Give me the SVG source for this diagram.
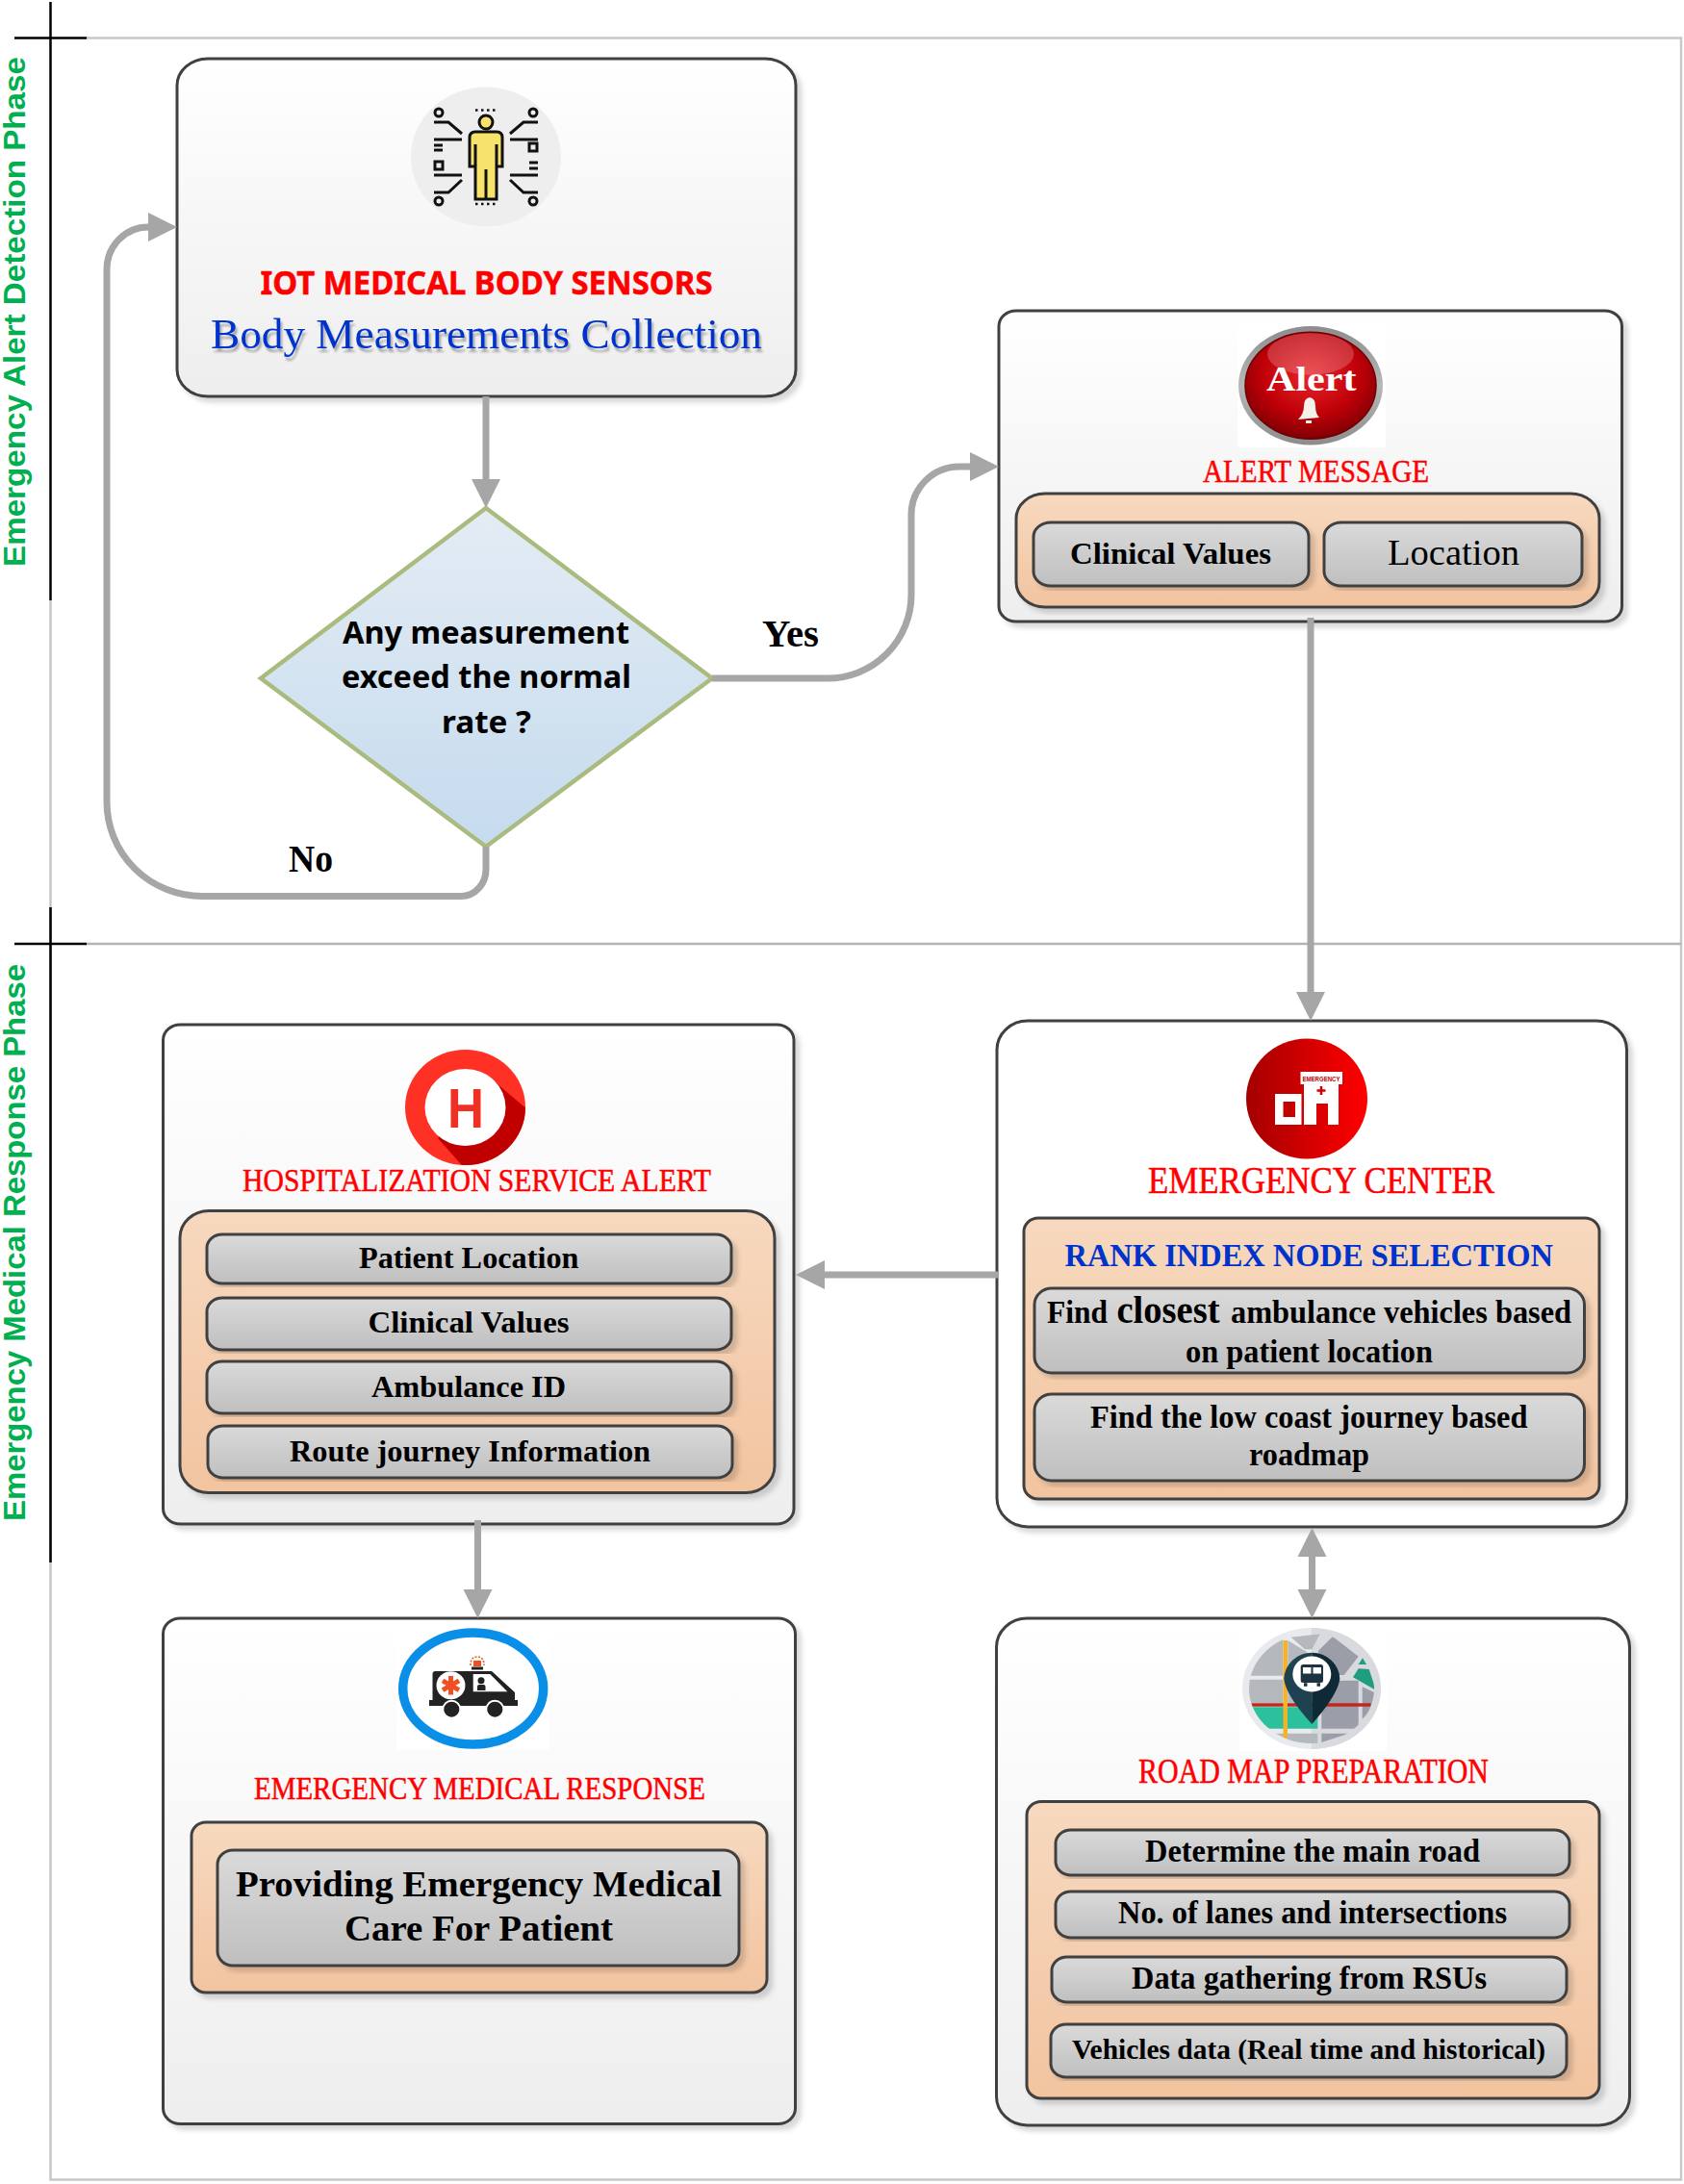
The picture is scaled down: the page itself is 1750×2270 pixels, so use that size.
<svg xmlns="http://www.w3.org/2000/svg" width="1750" height="2270" viewBox="0 0 1750 2270">
<style>
text{font-family:"Liberation Serif","Times New Roman",serif;fill:#000}
.b{font-weight:bold}
.red{fill:#f00;stroke:#f00;stroke-width:.5}
.blue{fill:#0033cc}
.lane{font-family:"Liberation Sans",Arial,sans-serif;font-weight:bold;fill:#00b050;font-size:31px}
.cal{font-family:"Noto Sans","Open Sans",sans-serif;font-weight:bold}
.box{fill:url(#gBox);stroke:#404040;stroke-width:3;filter:url(#sh)}
.org{fill:url(#gOrg);stroke:#404040;stroke-width:3;filter:url(#sh)}
.pill{fill:url(#gPill);stroke:#404040;stroke-width:3;filter:url(#sh)}
.con{fill:none;stroke:#a6a6a6;stroke-width:7}
.lg{stroke:#c8c8c8;stroke-width:2.5;fill:none}
.lk{stroke:#000;stroke-width:2.5;fill:none}
.ic{fill:none;stroke:#111;stroke-width:3}
.mL{fill:#b5b8bd}
.mR{fill:#9b9ea8}
.mG{fill:#2cc09c}
.mD{fill:#1f9e7f}
</style>
<defs>
<linearGradient id="gBox" x1="0" y1="0" x2="0" y2="1"><stop offset="0" stop-color="#fff"/><stop offset="1" stop-color="#eeeeee"/></linearGradient>
<linearGradient id="gOrg" x1="0" y1="0" x2="0" y2="1"><stop offset="0" stop-color="#f7d9bf"/><stop offset="1" stop-color="#f2c4a0"/></linearGradient>
<linearGradient id="gPill" x1="0" y1="0" x2="0" y2="1"><stop offset="0" stop-color="#dadada"/><stop offset="1" stop-color="#bfbfbf"/></linearGradient>
<linearGradient id="gDia" x1="0" y1="0" x2="0" y2="1"><stop offset="0" stop-color="#e4ecf4"/><stop offset="1" stop-color="#c5dbee"/></linearGradient>
<linearGradient id="gEm" x1="0" y1="0" x2="1" y2="0"><stop offset="0" stop-color="#a40000"/><stop offset="1" stop-color="#ff0000"/></linearGradient>
<linearGradient id="gSil" x1="0" y1="0" x2="0" y2="1"><stop offset="0" stop-color="#8c8c8c"/><stop offset="0.5" stop-color="#b8b8b8"/><stop offset="1" stop-color="#8c8c8c"/></linearGradient>
<radialGradient id="gAl" cx="0.5" cy="0.4" r="0.62"><stop offset="0" stop-color="#e8262c"/><stop offset="0.6" stop-color="#c00008"/><stop offset="1" stop-color="#7a0004"/></radialGradient>
<filter id="sh" x="-5%" y="-5%" width="112%" height="112%"><feDropShadow dx="5" dy="5" stdDeviation="2.5" flood-color="#000" flood-opacity="0.15"/></filter>
<filter id="tsh" x="-5%" y="-20%" width="110%" height="150%"><feDropShadow dx="2" dy="4" stdDeviation="1" flood-color="#000" flood-opacity="0.3"/></filter>
<marker id="ah" markerUnits="userSpaceOnUse" markerWidth="30" markerHeight="32" refX="0" refY="16" orient="auto-start-reverse"><path d="M0 1L30 16L0 31Z" fill="#a6a6a6"/></marker>
<clipPath id="cH"><ellipse cx="483.5" cy="1151" rx="62.5" ry="60"/></clipPath>
<clipPath id="cM"><ellipse cx="1363" cy="1755" rx="65" ry="57"/></clipPath>
</defs>

<g id="swimlanes">
<path class="lg" d="M90 39.5H1747V2265.5H52.5V624"/>
<path d="M90 981H1747" stroke="#b4b4b4" stroke-width="2.5" fill="none"/>
<path class="lk" d="M52.5 2V624M15 39.5H90M52.5 943V1624M15 981H90"/>
<text class="lane" transform="translate(25.5 589) rotate(-90)" textLength="530" lengthAdjust="spacingAndGlyphs">Emergency Alert Detection Phase</text>
<text class="lane" transform="translate(25.5 1581) rotate(-90)" textLength="579" lengthAdjust="spacingAndGlyphs">Emergency Medical Response Phase</text>
</g>

<g id="node-body-sensors">
<rect class="box" x="184" y="61" width="643" height="351" rx="32" ry="28"/>
<ellipse cx="505" cy="163" rx="78" ry="72.5" fill="#eeeeee"/>
<ellipse cx="505" cy="127" rx="7" ry="7" fill="#f7e26b" stroke="#111" stroke-width="3"/>
<path d="M494 137H516Q522 137 522 143V173H516V207H494V173H488V143Q488 137 494 137Z" fill="#f7e26b" stroke="#111" stroke-width="3"/>
<path class="ic" d="M494 150V172M516 150V172M505 176V207"/>
<path d="M494 114.5H516M494 212H516" stroke="#111" stroke-width="2.5" stroke-dasharray="2.5 3.5" fill="none"/>
<path class="ic" d="M451 127H466L480 139M451 145H480M451 151H460M451 156H460M451 182H480M480 187L466 200H451M559 127H544L530 139M559 145H530M559 169H550M559 175H550M559 182H530M530 187L544 200H559"/>
<circle class="ic" cx="456" cy="117" r="4"/><circle class="ic" cx="456" cy="209" r="4"/><circle class="ic" cx="554" cy="117" r="4"/><circle class="ic" cx="554" cy="209" r="4"/>
<rect class="ic" x="452" y="168" width="8" height="8"/><rect class="ic" x="550" y="149" width="8" height="8"/>
<text class="cal red" x="270.5" y="305.5" font-size="34" textLength="470" lengthAdjust="spacingAndGlyphs">IOT MEDICAL BODY SENSORS</text>
<text class="blue" x="219" y="362" font-size="44" textLength="573" lengthAdjust="spacingAndGlyphs" filter="url(#tsh)">Body Measurements Collection</text>
</g>

<g id="node-decision">
<polygon points="505,528 740,705 505,880 271,705" fill="url(#gDia)" stroke="#a9bb7e" stroke-width="4.5"/>
<text class="cal" x="356" y="669" font-size="33" textLength="298" lengthAdjust="spacingAndGlyphs">Any measurement</text>
<text class="cal" x="355" y="715" font-size="33" textLength="301" lengthAdjust="spacingAndGlyphs">exceed the normal</text>
<text class="cal" x="459" y="762" font-size="33" textLength="93" lengthAdjust="spacingAndGlyphs">rate ?</text>
</g>

<g id="node-alert">
<rect class="box" x="1038" y="323" width="647.5" height="323" rx="18" ry="16"/>
<rect x="1286" y="340" width="154" height="125" fill="#fff"/>
<ellipse cx="1362" cy="400.7" rx="75" ry="61.7" fill="url(#gSil)"/>
<ellipse cx="1362" cy="400.7" rx="68" ry="55.5" fill="url(#gAl)" stroke="#6e0004" stroke-width="1.5"/>
<ellipse cx="1362" cy="368" rx="45" ry="21.7" fill="#fff" fill-opacity="0.2"/>
<text x="1316" y="406" font-size="35" font-weight="bold" style="fill:#fff" textLength="93.5" lengthAdjust="spacingAndGlyphs">Alert</text>
<path d="M1361 413Q1367 414 1367 422Q1367 430 1371 434L1349 436Q1355 430 1355 422Q1355 414 1361 413ZM1357 437H1363V440H1357Z" fill="#f4f0ea"/>
<text class="red" x="1250" y="501" font-size="34" textLength="235" lengthAdjust="spacingAndGlyphs">ALERT MESSAGE</text>
<rect class="org" x="1056" y="513" width="606" height="118" rx="30" ry="26"/>
<rect class="pill" x="1074" y="543" width="286" height="66" rx="18" ry="15"/>
<rect class="pill" x="1376" y="543" width="268" height="66" rx="18" ry="15"/>
<text class="b" x="1112" y="586" font-size="31" textLength="209" lengthAdjust="spacingAndGlyphs">Clinical Values</text>
<text x="1442" y="587" font-size="38" textLength="137" lengthAdjust="spacingAndGlyphs">Location</text>
</g>

<g id="node-emergency-center">
<rect class="box" x="1036" y="1061" width="654.5" height="526" rx="32" ry="30" style="fill:#fff"/>
<ellipse cx="1358" cy="1142" rx="63" ry="62.5" fill="url(#gEm)"/>
<path d="M1325 1137H1352.5V1169H1325ZM1333.5 1145V1161H1346V1145Z" fill="#fff" fill-rule="evenodd"/>
<path d="M1355 1126H1391V1169H1380V1147H1368V1169H1355Z" fill="#fff"/>
<rect x="1351.5" y="1114" width="43.5" height="13" fill="#fff"/>
<text x="1353.5" y="1123.5" font-size="8" style="fill:#c00000;font-family:'Liberation Sans',sans-serif" font-weight="bold" textLength="39" lengthAdjust="spacingAndGlyphs">EMERGENCY</text>
<path d="M1373 1129V1138M1368.5 1133.5H1377.5" stroke="#d00000" stroke-width="2.5"/>
<text class="red" x="1193" y="1240" font-size="39" textLength="360" lengthAdjust="spacingAndGlyphs">EMERGENCY CENTER</text>
<rect class="org" x="1064" y="1266" width="598" height="292" rx="15" ry="14"/>
<text class="b blue" x="1106.5" y="1316" font-size="33" textLength="507.5" lengthAdjust="spacingAndGlyphs">RANK INDEX NODE SELECTION</text>
<rect class="pill" x="1075" y="1339" width="571.5" height="88" rx="18" ry="17"/>
<rect class="pill" x="1075" y="1449" width="571.5" height="90" rx="18" ry="17"/>
<text class="b" x="1088" y="1375" font-size="33" textLength="63" lengthAdjust="spacingAndGlyphs">Find</text>
<text class="b" x="1160.5" y="1375" font-size="39" textLength="107" lengthAdjust="spacingAndGlyphs">closest</text>
<text class="b" x="1279" y="1375" font-size="33" textLength="354" lengthAdjust="spacingAndGlyphs">ambulance vehicles based</text>
<text class="b" x="1232" y="1416" font-size="33" textLength="257" lengthAdjust="spacingAndGlyphs">on patient location</text>
<text class="b" x="1133" y="1484" font-size="33" textLength="454.5" lengthAdjust="spacingAndGlyphs">Find the low coast journey based</text>
<text class="b" x="1298" y="1523" font-size="33" textLength="125" lengthAdjust="spacingAndGlyphs">roadmap</text>
</g>

<g id="node-hospital">
<rect class="box" x="169.5" y="1065" width="655.5" height="519" rx="18" ry="16"/>
<ellipse cx="483.5" cy="1151" rx="62.5" ry="60" fill="#ff3024"/>
<polygon points="515,1125 585,1185 510,1245 455,1183" fill="#c00000" clip-path="url(#cH)"/>
<ellipse cx="483.5" cy="1151" rx="42" ry="40" fill="#fff"/>
<text x="465" y="1172" font-size="58" style="fill:#f03024;font-family:'Liberation Sans',sans-serif" font-weight="bold" textLength="38" lengthAdjust="spacingAndGlyphs">H</text>
<text class="red" x="252" y="1238" font-size="34" textLength="487" lengthAdjust="spacingAndGlyphs">HOSPITALIZATION SERVICE ALERT</text>
<rect class="org" x="187" y="1258.5" width="618" height="293" rx="30" ry="28"/>
<rect class="pill" x="215" y="1283" width="545" height="51" rx="16" ry="14"/>
<rect class="pill" x="215" y="1349" width="545" height="54" rx="16" ry="14"/>
<rect class="pill" x="215" y="1415" width="545" height="54" rx="16" ry="14"/>
<rect class="pill" x="216" y="1482" width="545" height="54" rx="16" ry="14"/>
<text class="b" x="373" y="1318" font-size="32" textLength="228.5" lengthAdjust="spacingAndGlyphs">Patient Location</text>
<text class="b" x="382.5" y="1385" font-size="32" textLength="209" lengthAdjust="spacingAndGlyphs">Clinical Values</text>
<text class="b" x="386" y="1452" font-size="32" textLength="202" lengthAdjust="spacingAndGlyphs">Ambulance ID</text>
<text class="b" x="301" y="1518.5" font-size="32" textLength="375" lengthAdjust="spacingAndGlyphs">Route journey Information</text>
</g>

<g id="node-medical-response">
<rect class="box" x="169.5" y="1682" width="657" height="525.5" rx="18" ry="16"/>
<rect x="412" y="1692" width="159" height="127" fill="#fff"/>
<ellipse cx="491.7" cy="1755" rx="73" ry="58" fill="#fff" stroke="#0a8fe8" stroke-width="9.5"/>
<path d="M449.5 1740Q449.5 1737 452.5 1737H511L535 1759V1767H538V1773H446V1767H449.5Z" fill="#222"/>
<path d="M491.7 1740H509.3L527.3 1758.3H491.7Z" fill="#fff"/>
<ellipse cx="468.5" cy="1751.7" rx="15" ry="14.5" fill="#fff"/>
<path d="M468.5 1742V1761.5M460 1746.8L477 1756.6M477 1746.8L460 1756.6" stroke="#f04e23" stroke-width="5"/>
<circle cx="500" cy="1746.7" r="3.5" fill="#222"/><path d="M496 1757V1753Q496 1751 498 1751H502.5Q504.5 1751 504.5 1753V1757Z" fill="#222"/>
<circle cx="469.3" cy="1776.7" r="9" fill="#222" stroke="#fff" stroke-width="2"/><circle cx="514.3" cy="1776.7" r="9" fill="#222" stroke="#fff" stroke-width="2"/>
<rect x="490" y="1732.5" width="12" height="3" fill="#222"/>
<rect x="492" y="1726" width="8" height="6" fill="#f04e23"/>
<path d="M489 1731Q489 1722 496 1722Q503 1722 503 1731" fill="none" stroke="#f04e23" stroke-width="1.5" stroke-dasharray="2 1.5"/>
<text class="red" x="264" y="1870" font-size="33" textLength="469" lengthAdjust="spacingAndGlyphs">EMERGENCY MEDICAL RESPONSE</text>
<rect class="org" x="199" y="1894" width="598" height="177" rx="15" ry="14"/>
<rect class="pill" x="226" y="1923" width="542" height="120" rx="16" ry="15"/>
<text class="b" x="245" y="1971" font-size="38" textLength="505" lengthAdjust="spacingAndGlyphs">Providing Emergency Medical</text>
<text class="b" x="358" y="2017" font-size="38" textLength="279" lengthAdjust="spacingAndGlyphs">Care For Patient</text>
</g>

<g id="node-road-map">
<rect class="box" x="1035.5" y="1682" width="658" height="527" rx="32" ry="30"/>
<rect x="1288" y="1688" width="153" height="132" fill="#fff"/>
<ellipse cx="1363" cy="1755" rx="72" ry="63" fill="#e8eaed"/>
<path d="M1363 1692A72 63 0 0 1 1363 1818Z" fill="#d8dade"/>
<g clip-path="url(#cM)">
<polygon class="mL" points="1296,1741.7 1333.3,1741.7 1333.3,1700 1296,1700"/>
<polygon class="mL" points="1338.3,1705 1358,1717 1350,1741.7 1338.3,1741.7"/>
<polygon class="mL" points="1341.7,1701.7 1371.7,1698.3 1363.3,1714.3 1356,1714.3"/>
<polygon class="mR" points="1370,1715.7 1385,1701 1411.7,1721.7 1396.7,1741 1370,1741"/>
<polygon class="mL" points="1296,1745.7 1333.3,1745.7 1333.3,1770 1296,1770"/>
<polygon class="mL" points="1338.3,1745.7 1365,1745.7 1365,1770 1338.3,1770"/>
<polygon class="mG" points="1296,1774.3 1369.3,1774.3 1369.3,1796.7 1300,1796.7"/>
<polygon class="mL" points="1325,1801.7 1369.3,1801.7 1369.3,1815 1325,1815"/>
<polygon class="mR" points="1373.3,1746.7 1411.7,1746.7 1411.7,1796.7 1373.3,1796.7"/>
<polygon class="mR" points="1373.3,1801.7 1401.7,1801.7 1373.3,1811"/>
<polygon class="mR" points="1415.7,1753.3 1430,1760 1430,1772.3 1415.7,1786.7"/>
<polygon class="mD" points="1411.7,1730 1416,1723.3 1420,1730"/>
<polygon class="mD" points="1406,1743.3 1411.7,1734.3 1422.7,1735 1430,1757"/>
<path d="M1300 1772H1424.5" stroke="#c0281e" stroke-width="3.5"/>
<path d="M1335.7 1705V1807" stroke="#f5b32a" stroke-width="4.5"/>
</g>
<path d="M1363.3 1717.7A29 28 0 0 0 1334.3 1745Q1336 1762 1363.3 1792Z" fill="#1f4252"/>
<path d="M1363.3 1717.7A29 28 0 0 1 1392.3 1745Q1390 1762 1363.3 1792Z" fill="#0f2a36"/>
<ellipse cx="1363.3" cy="1740" rx="20" ry="18.5" fill="#fff"/>
<rect x="1351.7" y="1730" width="23.3" height="19" rx="2.5" fill="#1c3442"/>
<rect x="1354" y="1733" width="8.5" height="6.5" fill="#fff"/><rect x="1364.5" y="1733" width="8.5" height="6.5" fill="#fff"/>
<path d="M1355 1751H1358.5M1368.5 1751H1372" stroke="#1c3442" stroke-width="3.5"/>
<text class="red" x="1183" y="1853" font-size="35" textLength="364" lengthAdjust="spacingAndGlyphs">ROAD MAP PREPARATION</text>
<rect class="org" x="1067" y="1872.5" width="595" height="308.5" rx="15" ry="14"/>
<rect class="pill" x="1097" y="1902" width="534" height="47" rx="16" ry="14"/>
<rect class="pill" x="1097" y="1966" width="534" height="48" rx="16" ry="14"/>
<rect class="pill" x="1093" y="2034" width="535" height="47" rx="16" ry="14"/>
<rect class="pill" x="1092" y="2104" width="536" height="55" rx="16" ry="14"/>
<text class="b" x="1190" y="1935" font-size="33" textLength="348" lengthAdjust="spacingAndGlyphs">Determine the main road</text>
<text class="b" x="1162" y="1999" font-size="33" textLength="404" lengthAdjust="spacingAndGlyphs">No. of lanes and intersections</text>
<text class="b" x="1176" y="2067" font-size="33" textLength="369" lengthAdjust="spacingAndGlyphs">Data gathering from RSUs</text>
<text class="b" x="1114" y="2140" font-size="30" textLength="492" lengthAdjust="spacingAndGlyphs">Vehicles data (Real time and historical)</text>
</g>

<g id="connectors">
<path class="con" d="M505 412V498" marker-end="url(#ah)"/>
<path class="con" d="M505 880V903A26 28 0 0 1 479 931.5H210A99 98 0 0 1 111 833V280A43 44 0 0 1 154 236" marker-end="url(#ah)"/>
<path class="con" d="M740 705H860A87 87 0 0 0 947 618V535A50 50 0 0 1 997 485H1008" marker-end="url(#ah)"/>
<path class="con" d="M1362 642V1031" marker-end="url(#ah)"/>
<path class="con" d="M1037 1325H857" marker-end="url(#ah)"/>
<path class="con" d="M1363.5 1618V1652" marker-start="url(#ah)" marker-end="url(#ah)"/>
<path class="con" d="M496.5 1580V1652" marker-end="url(#ah)"/>
<text class="b" x="792" y="672" font-size="39" textLength="59" lengthAdjust="spacingAndGlyphs">Yes</text>
<text class="b" x="300" y="906" font-size="39" textLength="46" lengthAdjust="spacingAndGlyphs">No</text>
</g>
</svg>
